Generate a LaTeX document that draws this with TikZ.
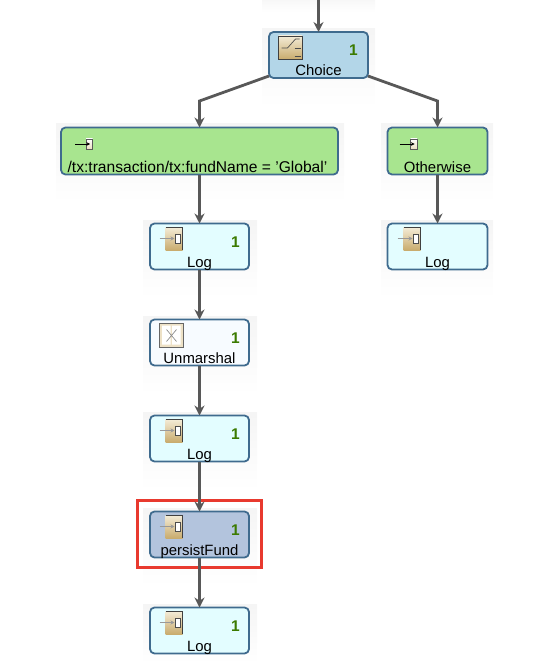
\documentclass[tikz,border=0pt]{standalone}
\usepackage{fontspec}
\setmainfont{Liberation Sans}
\usetikzlibrary{arrows.meta}
\definecolor{boxline}{HTML}{3F6B8E}
\definecolor{flowline}{HTML}{585858}
\definecolor{countgreen}{HTML}{3B7A00}
\definecolor{icontan}{HTML}{C9AC6E}
\definecolor{iconpale}{HTML}{F3EBD6}
\tikzset{
  procbox/.style={draw=boxline,line width=1.8pt,rounded corners=4.5pt,outer sep=0pt,
    minimum width=99pt,minimum height=46pt},
  flow/.style={draw=flowline,line width=2.8pt,-{Stealth[length=10pt,width=10pt]}},
  boxlabel/.style={anchor=base,font=\fontsize{14.9}{15}\selectfont,inner sep=0pt},
  countlabel/.style={font=\fontsize{15.5}{16}\selectfont\bfseries,text=countgreen,inner sep=0pt},
  halo/.style={top color=black!4,bottom color=white,draw=none},
  pics/logicon/.style={code={
    \shade[top color=iconpale,bottom color=icontan] (-34,-19) rectangle (-17,3.5);
    \draw[black!75,line width=0.7pt] (-34,-19) -- (-17,-19) -- (-17,3.5);
    \draw[black!40,line width=0.9pt,-{Stealth[length=4pt,width=4pt]}] (-40,-8) -- (-25,-8);
    \draw[black!70,fill=white,line width=0.6pt] (-24.5,-12.5) rectangle (-19.5,-3.5);
  }},
  pics/choiceicon/.style={code={
    \shade[top color=iconpale,bottom color=icontan] (-40,-19) rectangle (-16.5,4);
    \draw[black!75,line width=0.7pt] (-40,-19) rectangle (-16.5,4);
    \draw[black!70,line width=0.7pt] (-37,-7) -- (-31,-7) -- (-23,-16) -- (-19,-16);
    \draw[black!70,line width=0.7pt] (-24,-7) -- (-18,-7) (-24,1) -- (-18,1);
  }},
  pics/unmarshalicon/.style={code={
    \fill[iconpale!85!icontan] (-40,-19.5) rectangle (-16.5,4.5);
    \fill[white] (-37.5,-17) rectangle (-29,2) (-27.5,-17) rectangle (-19,2);
    \draw[black!60,line width=0.7pt] (-40,-19.5) rectangle (-16.5,4.5);
    \draw[black!45,line width=0.7pt] (-33,-13) -- (-23,-1) (-33,-1) -- (-23,-13);
  }},
  pics/whenicon/.style={code={
    \shade[top color=white,bottom color=iconpale!80!icontan] (0,-5) rectangle (6.5,5);
    \draw[black!65,line width=0.6pt] (0,-5) rectangle (6.5,5);
    \draw[black,line width=0.7pt,-{Stealth[length=3.5pt,width=3.5pt]}] (-11,0) -- (4,0);
  }},
}
\begin{document}
\begin{tikzpicture}[x=1pt,y=-1pt]
  \useasboundingbox (0,0) rectangle (553,663);
  % soft shadows behind the boxes
  \shade[top color=black!3,bottom color=white] (262,0) rectangle (375,12);
  \foreach \lx/\rx/\ty in {262/375/29,56/344/124,381/493/124,143/257/220,381/493/220,143/257/316,143/257/412,143/257/508,143/257/604} {
    \shade[halo] (\lx,\ty) rectangle (\rx,{min(\ty+78,663)});
  }

  \node[procbox,fill={rgb,255:red,179;green,214;blue,232}] (choice) at (318.5,55) {};
  \node[procbox,fill={rgb,255:red,168;green,229;blue,143},minimum width=277pt,minimum height=47pt] (when) at (199.5,151) {};
  \node[procbox,fill={rgb,255:red,168;green,229;blue,143},minimum width=100pt,minimum height=47pt] (otherwise) at (437.5,151) {};
  \node[procbox,fill={rgb,255:red,227;green,253;blue,255}] (logone) at (199.5,246.5) {};
  \node[procbox,fill={rgb,255:red,227;green,253;blue,255},minimum width=100pt] (logright) at (437.5,246.5) {};
  \node[procbox,fill={rgb,255:red,247;green,251;blue,255}] (unmarshal) at (199.5,342.5) {};
  \node[procbox,fill={rgb,255:red,227;green,253;blue,255}] (logtwo) at (199.5,438.5) {};
  \node[procbox,fill={rgb,255:red,179;green,196;blue,221}] (persist) at (199.5,534.5) {};
  \node[procbox,fill={rgb,255:red,227;green,253;blue,255}] (logthree) at (199.5,630.5) {};
  \node[draw={rgb,255:red,232;green,57;blue,46},line width=2.6pt,outer sep=0pt,minimum width=124pt,minimum height=67pt] (mark) at (199.5,534) {};

  % connectors
  \coordinate (top) at (318.5,0);
  \coordinate (leftbend) at (199.5,101);
  \coordinate (rightbend) at (437.5,101);
  \draw[flow] (top) -- (choice.north);
  \draw[flow] ([yshift=2pt]choice.south west) -- (leftbend) -- (when.north);
  \draw[flow] ([yshift=2pt]choice.south east) -- (rightbend) -- (otherwise.north);
  \draw[flow] (when.south -| logone) -- (logone.north);
  \draw[flow] (otherwise.south) -- (logright.north);
  \draw[flow] (logone.south) -- (unmarshal.north);
  \draw[flow] (unmarshal.south) -- (logtwo.north);
  \draw[flow] (logtwo.south) -- (persist.north);
  \draw[flow] (persist.south) -- (logthree.north);

  % icons
  \pic at (choice) {choiceicon};
  \pic at (86,144) {whenicon};
  \pic at (410.5,144) {whenicon};
  \pic at (logone) {logicon};
  \pic at (logright) {logicon};
  \pic at (unmarshal) {unmarshalicon};
  \pic at (logtwo) {logicon};
  \pic at (persist) {logicon};
  \pic at (logthree) {logicon};

  % texts
  \node[boxlabel] (choicetext) at ([yshift=2pt]choice.south) {Choice};
  \node[boxlabel,font=\fontsize{15.6}{16}\selectfont] (whentext) at ([xshift=-2pt,yshift=2.5pt]when.south) {/tx:transaction/tx:fundName = 'Global'};
  \node[boxlabel] (otherwisetext) at ([yshift=2.5pt]otherwise.south) {Otherwise};
  \node[boxlabel] (logonetext) at ([yshift=2pt]logone.south) {Log};
  \node[boxlabel] (logrighttext) at ([yshift=2pt]logright.south) {Log};
  \node[boxlabel] (unmarshaltext) at ([yshift=2pt]unmarshal.south) {Unmarshal};
  \node[boxlabel] (logtwotext) at ([yshift=2pt]logtwo.south) {Log};
  \node[boxlabel] (persisttext) at ([yshift=2pt]persist.south) {persistFund};
  \node[boxlabel] (logthreetext) at ([yshift=2pt]logthree.south) {Log};

  \node[countlabel] (choicecount) at (353.5,50) {1};
  \node[countlabel] (logonecount) at (235.5,242) {1};
  \node[countlabel] (unmarshalcount) at (235.5,338) {1};
  \node[countlabel] (logtwocount) at (235.5,434) {1};
  \node[countlabel] (persistcount) at (235.5,530) {1};
  \node[countlabel] (logthreecount) at (235.5,626) {1};
\end{tikzpicture}
\end{document}
